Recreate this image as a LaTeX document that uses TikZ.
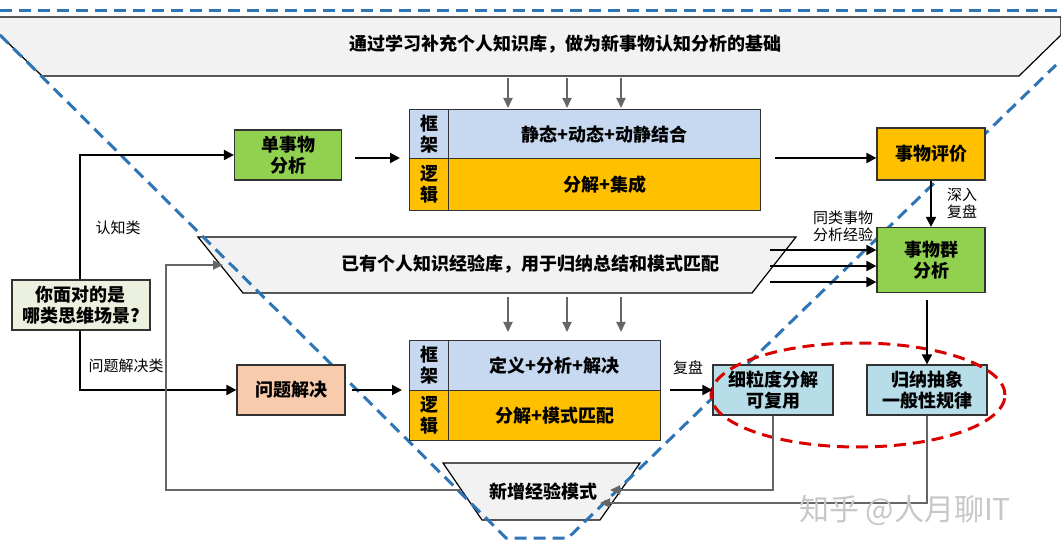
\documentclass[tikz,border=0pt]{standalone}
\usepackage{fontspec}
\setmainfont{Noto Sans CJK SC}
\usetikzlibrary{arrows.meta}
\definecolor{gbg}{HTML}{F2F2F2}
\definecolor{grn}{HTML}{92D050}
\definecolor{lblue}{HTML}{C6D9F1}
\definecolor{org}{HTML}{FFC000}
\definecolor{salmon}{HTML}{F8CBAD}
\definecolor{cyanb}{HTML}{B7DDE8}
\definecolor{qbox}{HTML}{EBF1DE}
\definecolor{dblue}{HTML}{2E75B6}
\begin{document}
\begin{tikzpicture}[x=1pt,y=-1pt,
  box/.style={draw=black!80,line width=1.2pt,font=\bfseries\fontsize{18}{21}\selectfont,align=center,inner sep=0pt},
  blk/.style={-{Triangle[length=10pt,width=10pt]},line width=2pt},
  gry/.style={-{Triangle[length=10pt,width=9pt]},line width=2pt,draw=black!60,color=black!60},
  lbl/.style={font=\fontsize{15}{17}\selectfont,align=center},
  bnr/.style={font=\bfseries\fontsize{18}{21}\selectfont}]
\useasboundingbox (0,0) rectangle (1061,553);
% top banner
\filldraw[fill=gbg,draw=black,line width=1.2pt] (0,17) -- (1061,17) -- (1061,35) -- (1019,76) -- (42,76) -- (0,35);
\node[bnr] (top) at (565,44) {通过学习补充个人知识库，做为新事物认知分析的基础};
% middle banner
\filldraw[fill=gbg,draw=black,line width=1.2pt] (198,237) -- (796,237) -- (752,293) -- (243,293) -- cycle;
\node[bnr] (mid) at (530,264) {已有个人知识经验库，用于归纳总结和模式匹配};
% bottom banner
\filldraw[fill=gbg,draw=black,line width=1.2pt] (443,463) -- (640,463) -- (600,520) -- (482,520) -- cycle;
\node[bnr] (new) at (543,492) {新增经验模式};
% blue dashed V
\draw[dblue,line width=3pt,dash pattern=on 12pt off 7pt] (0,11) -- (1061,11);
\draw[dblue,line width=3pt,dash pattern=on 12pt off 7pt] (0,35) -- (506,538) -- (568,538) -- (1056,65);
% table 1
\node[box,fill=lblue,minimum width=39pt,minimum height=49pt,anchor=north west] (k1) at (409,109) {框\\架};
\node[box,fill=lblue,minimum width=312pt,minimum height=49pt,anchor=north west] (t1a) at (448,109) {静态+动态+动静结合};
\node[box,fill=org,minimum width=39pt,minimum height=52pt,anchor=north west] (l1) at (409,158) {逻\\辑};
\node[box,fill=org,minimum width=312pt,minimum height=52pt,anchor=north west] (t1b) at (448,158) {分解+集成};
% table 2
\node[box,fill=lblue,minimum width=39pt,minimum height=50pt,anchor=north west] (k2) at (409,340) {框\\架};
\node[box,fill=lblue,minimum width=212pt,minimum height=50pt,anchor=north west] (t2a) at (448,340) {定义+分析+解决};
\node[box,fill=org,minimum width=39pt,minimum height=50pt,anchor=north west] (l2) at (409,390) {逻\\辑};
\node[box,fill=org,minimum width=212pt,minimum height=50pt,anchor=north west] (t2b) at (448,390) {分解+模式匹配};
% boxes
\node[box,fill=grn,minimum width=107pt,minimum height=50pt] (single) at (288,155) {单事物\\分析};
\node[box,fill=org,minimum width=108pt,minimum height=52pt] (eval) at (931,154) {事物评价};
\node[box,fill=grn,minimum width=108pt,minimum height=65pt] (group) at (931,260) {事物群\\分析};
\node[box,fill=qbox,minimum width=138pt,minimum height=50pt] (q) at (81,305) {你面对的是\\哪类思维场景?};
\node[box,fill=salmon,minimum width=108pt,minimum height=50pt] (prob) at (291,390) {问题解决};
\node[box,fill=cyanb,minimum width=120pt,minimum height=50pt] (fine) at (773,390) {细粒度分解\\可复用};
\node[box,fill=cyanb,minimum width=120pt,minimum height=50pt] (ind) at (927,390) {归纳抽象\\一般性规律};
% red ellipse
\draw[red!85!black,line width=3pt,dash pattern=on 12pt off 7pt] (858,395) ellipse [x radius=147pt,y radius=52pt];
% gray arrows from banners
\foreach \x in {508,567,621}{
  \coordinate (a\x) at (\x,78); \coordinate (b\x) at (\x,108);
  \draw[gry] (a\x) -- (b\x);
  \coordinate (c\x) at (\x,297); \coordinate (d\x) at (\x,332);
  \draw[gry] (c\x) -- (d\x);}
% black connectors
\draw[blk] (q.north -| 80,0) -- (80,155) -- (single.west);
\draw[blk] (q.south -| 80,0) -- (80,390) -- (prob.west);
\node[lbl] (l_cog) at (118,228) {认知类};
\node[lbl] (l_pro) at (126,366) {问题解决类};
\coordinate (s1) at (355,158); \coordinate (s2) at (400,158);
\draw[blk] (s1) -- (s2);
\coordinate (e1) at (775,158);
\draw[blk] (e1) -- (eval.west |- e1);
\draw[blk] (eval.south) -- (group.north);
\node[lbl] (deep) at (962,203) {深入\\复盘};
\node[lbl] (same) at (843,226) {同类事物\\分析经验};
\foreach \y in {250,266,282}{
  \coordinate (g\y) at (770,\y);
  \draw[blk] (g\y) -- (group.west |- g\y);}
\coordinate (gi) at (927,300);
\draw[blk] (gi) -- (ind.north);
\coordinate (p1) at (352,390); \coordinate (p2) at (402,390);
\draw[blk] (p1) -- (p2);
\node[lbl] (fp) at (688,368) {复盘};
\coordinate (f1) at (670,390);
\draw[blk] (f1) -- (fine.west);
% gray feedback lines
\coordinate (n1) at (610,490); \coordinate (n2) at (600,503);
\draw[gry] (fine.south) -- (fine.south |- n1) -- (n1);
\draw[gry] (ind.south) -- (ind.south |- n2) -- (n2);
\coordinate (m1) at (166,490); \coordinate (m2) at (166,265); \coordinate (m3) at (223,265);
\draw[gry] (460,490) -- (m1) -- (m2) -- (m3);
% watermark
\node[text=black!22,font=\fontsize{30}{32}\selectfont] (wm) at (905,510) {知乎 @人月聊IT};
\end{tikzpicture}
\end{document}
